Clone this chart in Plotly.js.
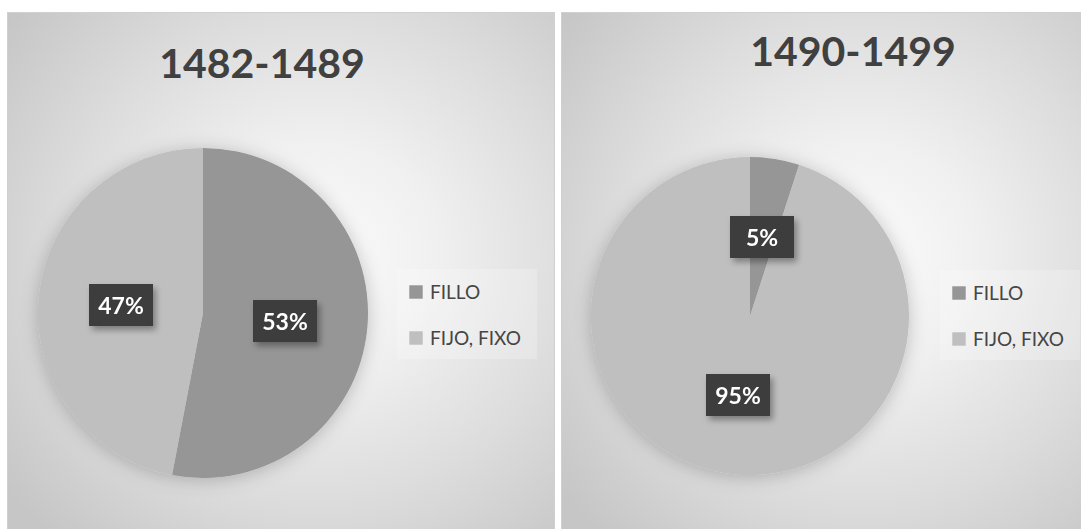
<!DOCTYPE html>
<html>
<head>
<meta charset="utf-8">
<script src="https://cdn.plot.ly/plotly-3.0.1.min.js"></script>
<style>
  html, body { margin:0; padding:0; background:#ffffff; width:1081px; height:529px; overflow:hidden; }
  .panel { position:absolute; overflow:hidden;
    background: radial-gradient(ellipse 72% 72% at 57% 46%, #fbfbfb 0%, #f0f0f0 30%, #dcdcdc 65%, #c6c6c6 100%);
    box-shadow: inset 0 0 0 1px #d0d0d0; }
  .plot { position:absolute; left:0; top:0; }
</style>
</head>
<body>
<div class="panel" style="left:7px;top:12px;width:548px;height:530px"><div id="p1" class="plot"></div></div>
<div class="panel" style="left:561px;top:12px;width:530px;height:530px"><div id="p2" class="plot"></div></div>
<script>
// ---- data ----
const periods = ['1482-1489', '1490-1499'];
const categories = ['FILLO', 'FIJO, FIXO'];
const pct1482 = [53, 47];
const pct1490 = [5, 95];

// ---- styles ----
const sliceColors = ['#969696', '#bfbfbf'];
const FONT = 'Lato, "Open Sans", sans-serif';

function buildChart(divId, W, H, title, values, cfg) {
  const R = cfg.r;
  const cx = cfg.cx / W, cy = 1 - cfg.cy / H;
  const domain = {
    x: [(cfg.cx - R) / W, (cfg.cx + R) / W],
    y: [cy - R / H, cy + R / H]
  };
  const total = values.reduce((a, b) => a + b, 0);
  let cum = 0;
  const annotations = values.map((v) => {
    const mid = (cum + v / 2) / total * 2 * Math.PI;
    cum += v;
    return {
      xref: 'paper', yref: 'paper',
      x: cx + 0.5 * R * Math.sin(mid) / W,
      y: cy + 0.5 * R * Math.cos(mid) / H,
      xanchor: 'center', yanchor: 'middle',
      text: Math.round(v / total * 100) + '%',
      showarrow: false,
      font: { family: FONT, size: 23, color: '#ffffff', weight: 'bold' },
      bgcolor: '#3d3d3d', bordercolor: '#3d3d3d', borderwidth: 1, borderpad: 5,
      width: cfg.labW, height: 30
    };
  });
  const trace = {
    type: 'pie', values: values, labels: categories, sort: false,
    direction: 'clockwise', rotation: 0, textinfo: 'none', hoverinfo: 'none',
    marker: { colors: sliceColors, line: { width: 0 } },
    domain: domain
  };
  const layout = {
    width: W, height: H, margin: { l: 0, r: 0, t: 0, b: 0 },
    paper_bgcolor: 'rgba(0,0,0,0)', plot_bgcolor: 'rgba(0,0,0,0)',
    showlegend: true,
    title: { text: title, x: cfg.tx / W, xanchor: 'center', y: 1 - cfg.ty / H, yanchor: 'middle',
             font: { family: FONT, size: 41, color: '#404040', weight: 'bold' } },
    legend: { x: cfg.lx / W, y: 1 - cfg.ly / H, xanchor: 'left', yanchor: 'top',
              bgcolor: 'rgba(255,255,255,0.22)', borderwidth: 0,
              font: { family: FONT, size: 19, color: '#454545' } },
    annotations: annotations
  };
  return Plotly.newPlot(divId, [trace], layout, { staticPlot: true, displayModeBar: false })
    .then((gd) => { decorate(gd); return gd; });
}

function decorate(gd) {
  const svg = gd.querySelector('svg.main-svg');
  const defs = svg.querySelector('defs');
  const ns = 'http://www.w3.org/2000/svg';
  const f = document.createElementNS(ns, 'filter');
  f.setAttribute('id', 'glow-' + gd.id);
  f.setAttribute('x', '-30%'); f.setAttribute('y', '-30%');
  f.setAttribute('width', '160%'); f.setAttribute('height', '160%');
  f.innerHTML = '<feDropShadow dx="0" dy="2" stdDeviation="9" flood-color="#000" flood-opacity="0.22"/>';
  defs.appendChild(f);
  const f2 = document.createElementNS(ns, 'filter');
  f2.setAttribute('id', 'lab-' + gd.id);
  f2.setAttribute('x', '-30%'); f2.setAttribute('y', '-30%');
  f2.setAttribute('width', '160%'); f2.setAttribute('height', '160%');
  f2.innerHTML = '<feDropShadow dx="3" dy="4" stdDeviation="3" flood-color="#000" flood-opacity="0.35"/>';
  defs.appendChild(f2);
  const pie = gd.querySelector('.pielayer');
  if (pie) pie.setAttribute('filter', 'url(#glow-' + gd.id + ')');
  gd.querySelectorAll('.annotation-text-g').forEach((g) => g.setAttribute('filter', 'url(#lab-' + gd.id + ')'));

  // spread legend entries like the original
  const legend = gd.querySelector('.legend');
  if (!legend) return;
  const bg = legend.querySelector('rect.bg');
  bg.setAttribute('width', 140); bg.setAttribute('height', 90);
  const sb = legend.querySelector('.scrollbox');
  if (sb) sb.removeAttribute('clip-path');
  legend.querySelectorAll('.traces').forEach((t, i) => {
    t.setAttribute('transform', 'translate(0,' + (23 + i * 46) + ')');
    const txt = t.querySelector('text.legendtext');
    if (txt) txt.setAttribute('x', 33);
    t.querySelectorAll('.legendpoints path').forEach((p) => p.setAttribute('transform', 'translate(19,0) scale(1.12)'));
  });
}

buildChart('p1', 548, 530, periods[0], pct1482,
  { cx: 196, cy: 301, r: 165, tx: 255, ty: 52, lx: 390, ly: 257, labW: 52 });
buildChart('p2', 530, 530, periods[1], pct1490,
  { cx: 189, cy: 304, r: 159, tx: 292, ty: 40, lx: 379, ly: 258, labW: 52 });
</script>
</body>
</html>
